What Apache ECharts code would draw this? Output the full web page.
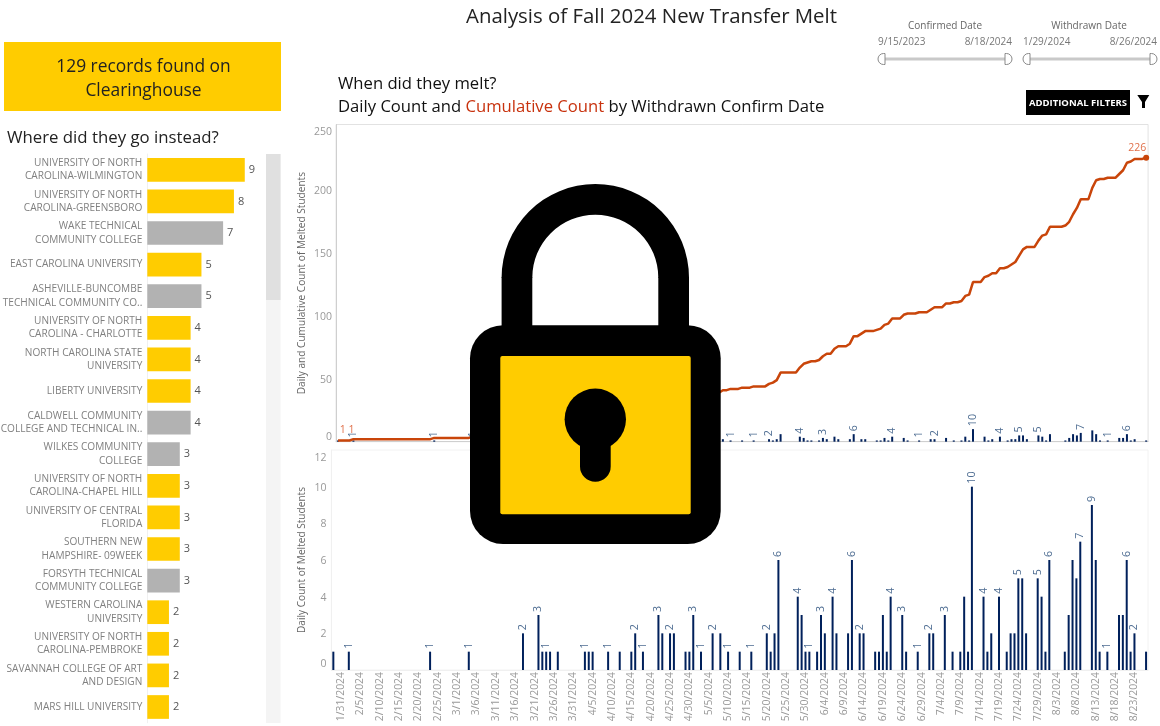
<!DOCTYPE html>
<html>
<head>
<meta charset="utf-8">
<script src="https://cdn.jsdelivr.net/npm/echarts@6/dist/echarts.min.js"></script>
<style>
  html, body { margin: 0; padding: 0; background: #fff; }
  #main { width: 1160px; height: 726px; }
</style>
</head>
<body>
<div id="main"></div>
<script>
var FONT = '"Open Sans", sans-serif';

// left panel
const schoolNames = [
  'UNIVERSITY OF NORTH\nCAROLINA-WILMINGTON',
  'UNIVERSITY OF NORTH\nCAROLINA-GREENSBORO',
  'WAKE TECHNICAL\nCOMMUNITY COLLEGE',
  'EAST CAROLINA UNIVERSITY',
  'ASHEVILLE-BUNCOMBE\nTECHNICAL COMMUNITY CO..',
  'UNIVERSITY OF NORTH\nCAROLINA - CHARLOTTE',
  'NORTH CAROLINA STATE\nUNIVERSITY',
  'LIBERTY UNIVERSITY',
  'CALDWELL COMMUNITY\nCOLLEGE AND TECHNICAL IN..',
  'WILKES COMMUNITY\nCOLLEGE',
  'UNIVERSITY OF NORTH\nCAROLINA-CHAPEL HILL',
  'UNIVERSITY OF CENTRAL\nFLORIDA',
  'SOUTHERN NEW\nHAMPSHIRE- 09WEEK',
  'FORSYTH TECHNICAL\nCOMMUNITY COLLEGE',
  'WESTERN CAROLINA\nUNIVERSITY',
  'UNIVERSITY OF NORTH\nCAROLINA-PEMBROKE',
  'SAVANNAH COLLEGE OF ART\nAND DESIGN',
  'MARS HILL UNIVERSITY'
];
const schoolCounts = [9, 8, 7, 5, 5, 4, 4, 4, 4, 3, 3, 3, 3, 3, 2, 2, 2, 2];
// 2 year schools are the grey ones
const schoolIsGrey = [0, 0, 1, 0, 1, 0, 0, 0, 1, 1, 0, 0, 0, 1, 0, 0, 0, 0];

// one value per day, 1/29/2024 to 8/26/2024
const dailyCounts = [
  1,0,0,0,1,0,0,0,0,0,
  0,0,0,0,0,0,0,0,0,0,
  0,0,0,0,0,1,0,0,0,0,
  0,0,0,0,0,1,0,0,0,0,
  0,0,0,0,0,0,0,0,0,2,
  0,0,0,3,1,1,1,0,1,0,
  0,0,0,0,0,1,1,1,0,0,
  0,1,0,0,1,0,0,1,2,0,
  1,0,0,0,3,2,0,2,2,0,
  0,1,1,3,0,1,0,0,2,0,
  2,0,1,0,0,1,0,0,1,0,
  0,0,2,1,2,6,0,0,0,0,
  4,3,1,1,0,1,3,2,0,4,
  2,0,0,2,6,0,2,2,0,0,
  1,1,3,1,4,0,0,3,1,0,
  0,1,0,0,2,2,0,0,3,0,
  1,0,1,4,1,10,0,0,4,1,
  2,0,4,0,1,2,2,5,5,2,
  0,0,5,4,1,6,0,0,0,1,
  3,6,5,7,0,0,9,6,1,0,
  1,0,0,3,3,6,1,2,0,0,1
];
const cumulativeCounts = [
  1,1,1,1,2,2,2,2,2,2,
  2,2,2,2,2,2,2,2,2,2,
  2,2,2,2,2,3,3,3,3,3,
  3,3,3,3,3,4,4,4,4,4,
  4,4,4,4,4,4,4,4,4,6,
  6,6,6,9,10,11,12,12,13,13,
  13,13,13,13,13,14,15,16,16,16,
  16,17,17,17,18,18,18,19,21,21,
  22,22,22,22,25,27,27,29,31,31,
  31,32,33,36,36,37,37,37,39,39,
  41,41,42,42,42,43,43,43,44,44,
  44,44,46,47,49,55,55,55,55,55,
  59,62,63,64,64,65,68,70,70,74,
  76,76,76,78,84,84,86,88,88,88,
  89,90,93,94,98,98,98,101,102,102,
  102,103,103,103,105,107,107,107,110,110,
  111,111,112,116,117,127,127,127,131,132,
  134,134,138,138,139,141,143,148,153,155,
  155,155,160,164,165,171,171,171,171,172,
  175,181,186,193,193,193,202,208,209,209,
  210,210,210,213,216,222,223,225,225,225,226
];
// which days show a number
const lowerLabelDays = [4,25,35,49,53,55,65,71,78,80,84,87,93,95,98,102,108,112,115,120,123,126,129,134,136,144,147,151,154,158,165,168,172,177,182,185,193,196,200,205,207];
const upperLabelDays = [4,25,35,102,108,112,120,126,134,144,151,155,165,172,177,182,193,200,205];
const upperTicks = [0, 50, 100, 150, 200, 250];
const lowerTicks = [0, 2, 4, 6, 8, 10, 12];

var days = [];
var d = new Date(2024, 0, 29);
for (var i = 0; i < dailyCounts.length; i++) {
  days.push((d.getMonth() + 1) + '/' + d.getDate() + '/' + d.getFullYear());
  d.setDate(d.getDate() + 1);
}

function dailyData(labelDays) {
  return dailyCounts.map(function (v, i) {
    if (labelDays.indexOf(i) < 0) return v;
    return { value: v, label: { show: true } };
  });
}

var dailyLabel = {
  show: false,
  position: 'top',
  rotate: 90,
  align: 'left',
  verticalAlign: 'middle',
  distance: 3,
  fontSize: 10.7,
  fontFamily: FONT,
  color: '#4e6d92'
};

// 0 and the top tick sit inside the plot in the original
function edgeLabels(top) {
  return function (v) {
    if (v === 0) return '{low|0}';
    if (v === top) return '{high|' + v + '}';
    return String(v);
  };
}

function txt(text, x, y, size, color, align, weight) {
  return {
    type: 'text', z: 50,
    style: {
      text: text, x: x, y: y, fill: color,
      font: (weight || 'normal') + ' ' + size + 'px ' + FONT,
      align: align || 'left', verticalAlign: 'middle'
    }
  };
}

function slider(x0, x1, name, nameX, from, to) {
  var grey = { fill: '#fff', stroke: '#8a8a8a', lineWidth: 1 };
  return [
    txt(name, nameX, 26, 10, '#666', 'center'),
    txt(from, x0, 42, 10, '#777', 'left'),
    txt(to, x1, 42, 10, '#777', 'right'),
    { type: 'rect', z: 50, shape: { x: x0 + 6, y: 57.5, width: x1 - x0 - 12, height: 3 }, style: { fill: '#c9c9c9' } },
    { type: 'rect', z: 51, shape: { x: x0, y: 53.5, width: 7, height: 11, r: [5.5, 0, 0, 5.5] }, style: grey },
    { type: 'rect', z: 51, shape: { x: x1 - 7, y: 53.5, width: 7, height: 11, r: [0, 5.5, 5.5, 0] }, style: grey }
  ];
}

// padlock sits over the charts
var LOCK = '#000', LOCK_FILL = '#FFCC00';
var lock = [
  { type: 'sector', z: 100, shape: { cx: 595.3, cy: 277.7, r: 93.7, r0: 63, startAngle: Math.PI, endAngle: 2 * Math.PI }, style: { fill: LOCK } },
  { type: 'rect', z: 100, shape: { x: 501.6, y: 277, width: 30.7, height: 55 }, style: { fill: LOCK } },
  { type: 'rect', z: 100, shape: { x: 658.3, y: 277, width: 30.7, height: 55 }, style: { fill: LOCK } },
  { type: 'rect', z: 100, shape: { x: 470, y: 325.3, width: 250.7, height: 218.7, r: 33 }, style: { fill: LOCK } },
  { type: 'rect', z: 101, shape: { x: 500.3, y: 356, width: 190.4, height: 158.3, r: 2 }, style: { fill: LOCK_FILL } },
  { type: 'circle', z: 102, shape: { cx: 595.3, cy: 419.3, r: 30.7 }, style: { fill: LOCK } },
  { type: 'rect', z: 102, shape: { x: 580, y: 435, width: 30.7, height: 46.7, r: [0, 0, 15.3, 15.3] }, style: { fill: LOCK } }
];

var extras = [
  { type: 'rect', z: 40, shape: { x: 4, y: 42, width: 277, height: 69 }, style: { fill: '#FFCC00' } },
  txt('129 records found on', 143.5, 67, 17.4, '#222', 'center'),
  txt('Clearinghouse', 143.5, 91, 17.4, '#222', 'center'),
  // scrollbar of the bar list
  { type: 'rect', z: 1, shape: { x: 266, y: 154, width: 14.5, height: 569 }, style: { fill: '#f4f4f4' } },
  { type: 'rect', z: 2, shape: { x: 266, y: 154, width: 14.5, height: 146 }, style: { fill: '#e0e0e0' } },
  { type: 'rect', z: 50, shape: { x: 1026, y: 90, width: 104, height: 25 }, style: { fill: '#000' } },
  txt('ADDITIONAL FILTERS', 1078, 103, 9.5, '#fff', 'center', 'bold'),
  { type: 'polygon', z: 50, shape: { points: [[1137.3, 95], [1149.3, 95], [1145, 102], [1145, 108], [1142, 108], [1142, 102]] }, style: { fill: '#000' } }
].concat(
  slider(878, 1012, 'Confirmed Date', 945, '9/15/2023', '8/18/2024'),
  slider(1023, 1157, 'Withdrawn Date', 1089, '1/29/2024', '8/26/2024'),
  lock
);

var chart = echarts.init(document.getElementById('main'), null, { renderer: 'canvas' });

var option = {
  animation: false,
  backgroundColor: '#fff',
  textStyle: { fontFamily: FONT },
  title: [
    { text: 'Analysis of Fall 2024 New Transfer Melt', left: 646.5, top: 2, textAlign: 'center', textStyle: { fontFamily: FONT, fontSize: 20.4, fontWeight: 'normal', color: '#222' } },
    { text: 'Where did they go instead?', left: 2, top: 125, textStyle: { fontFamily: FONT, fontSize: 16.8, fontWeight: 'normal', color: '#222' } },
    { text: 'When did they melt?', left: 333, top: 71, textStyle: { fontFamily: FONT, fontSize: 16.65, fontWeight: 'normal', color: '#111' } },
    {
      text: 'Daily Count and {red|Cumulative Count} by Withdrawn Confirm Date', left: 333, top: 94,
      textStyle: { fontFamily: FONT, fontSize: 16.65, fontWeight: 'normal', color: '#111', rich: { red: { fontFamily: FONT, fontSize: 16.65, color: '#C8320E' } } }
    }
  ],
  grid: [
    { left: 147.3, top: 154, width: 108.3, height: 568.8, outerBoundsMode: 'none' },
    { left: 336.1, top: 124.5, width: 812, height: 317.2, outerBoundsMode: 'none', show: true, borderColor: '#e2e2e2', borderWidth: 1, backgroundColor: 'transparent' },
    { left: 331.4, top: 450, width: 816.6, height: 220, outerBoundsMode: 'none', show: true, borderColor: '#f2f2f2', borderWidth: 1, backgroundColor: 'transparent' }
  ],
  xAxis: [
    { type: 'value', gridIndex: 0, min: 0, max: 10, show: false },
    { type: 'category', gridIndex: 1, data: days, axisLabel: { show: false }, axisTick: { show: false }, axisLine: { lineStyle: { color: '#cfcfcf' } } },
    {
      type: 'category', gridIndex: 2, data: days,
      axisTick: { show: false },
      axisLine: { lineStyle: { color: '#f0f0f0' } },
      axisLabel: {
        rotate: 90, margin: 2, fontSize: 10.4, fontFamily: FONT, color: '#999', padding: [0, 0, 5, 0],
        interval: function (i) { return (i - 2) % 5 === 0; }
      }
    }
  ],
  yAxis: [
    {
      type: 'category', gridIndex: 0, data: schoolNames, inverse: true,
      axisTick: { show: false },
      axisLine: { lineStyle: { color: '#f0f0f0' } },
      axisLabel: { interval: 0, margin: 5, fontSize: 10.1, lineHeight: 13.3, fontFamily: FONT, color: '#808080', align: 'right', padding: [4, 0, 0, 0] }
    },
    {
      type: 'value', gridIndex: 1, min: 0, max: 252.4, splitLine: { show: false },
      name: 'Daily and Cumulative Count of Melted Students', nameLocation: 'middle', nameGap: 29, nameMoveOverlap: false,
      nameTextStyle: { fontFamily: FONT, fontSize: 10.1, color: '#666' },
      axisTick: { show: false },
      axisLine: { show: true, lineStyle: { color: '#cfcfcf' } },
      axisLabel: {
        customValues: upperTicks, margin: 4, fontSize: 10.5, fontFamily: FONT, color: '#999', padding: [2, 0, 0, 0],
        formatter: edgeLabels(250),
        rich: { low: { padding: [0, 0, 12, 0], fontSize: 10.5, color: '#999' }, high: { padding: [7, 0, 0, 0], fontSize: 10.5, color: '#999' } }
      }
    },
    {
      type: 'value', gridIndex: 2, min: 0, max: 12, interval: 2, splitLine: { show: false },
      name: 'Daily Count of Melted Students', nameLocation: 'middle', nameGap: 24, nameMoveOverlap: false,
      nameTextStyle: { fontFamily: FONT, fontSize: 10.1, color: '#666' },
      axisTick: { show: false },
      axisLine: { show: true, lineStyle: { color: '#f0f0f0' } },
      axisLabel: {
        customValues: lowerTicks, margin: 5, fontSize: 10.5, fontFamily: FONT, color: '#999', padding: [2, 0, 0, 0],
        formatter: edgeLabels(12),
        rich: { low: { padding: [0, 0, 14, 0], fontSize: 10.5, color: '#999' }, high: { padding: [14, 0, 0, 0], fontSize: 10.5, color: '#999' } }
      }
    }
  ],
  series: [
    {
      type: 'bar', xAxisIndex: 0, yAxisIndex: 0, barWidth: 23.7,
      data: schoolCounts.map(function (v, i) {
        return { value: v, itemStyle: { color: schoolIsGrey[i] ? '#B2B2B2' : '#FFCC00' } };
      }),
      label: { show: true, position: 'right', distance: 4, fontSize: 11, fontFamily: FONT, color: '#555' }
    },
    {
      type: 'bar', xAxisIndex: 1, yAxisIndex: 1, barWidth: 2,
      itemStyle: { color: '#00205B' }, label: dailyLabel,
      data: dailyData(upperLabelDays)
    },
    {
      type: 'line', xAxisIndex: 1, yAxisIndex: 1, showSymbol: true, showAllSymbol: true, symbol: 'circle', symbolSize: 0,
      lineStyle: { color: '#C9450A', width: 2.5 }, itemStyle: { color: '#C9450A' },
      data: cumulativeCounts.map(function (v, i) {
        var item = { value: v };
        var lbl = { show: true, position: 'top', fontSize: 10.5, fontFamily: FONT, color: '#E0704A', distance: 3 };
        // two 1s side by side at the start of the line
        if (i === 0) { lbl.offset = [9, -2]; lbl.formatter = '1 1'; item.label = lbl; }
        if (i === dailyCounts.length - 1) { lbl.offset = [-9, 2]; item.label = lbl; item.symbolSize = 6; }
        return item;
      })
    },
    {
      type: 'bar', xAxisIndex: 2, yAxisIndex: 2, barWidth: 2,
      itemStyle: { color: '#00205B' }, label: dailyLabel,
      data: dailyData(lowerLabelDays)
    }
  ],
  graphic: { elements: extras }
};
chart.setOption(option);
</script>
</body>
</html>
